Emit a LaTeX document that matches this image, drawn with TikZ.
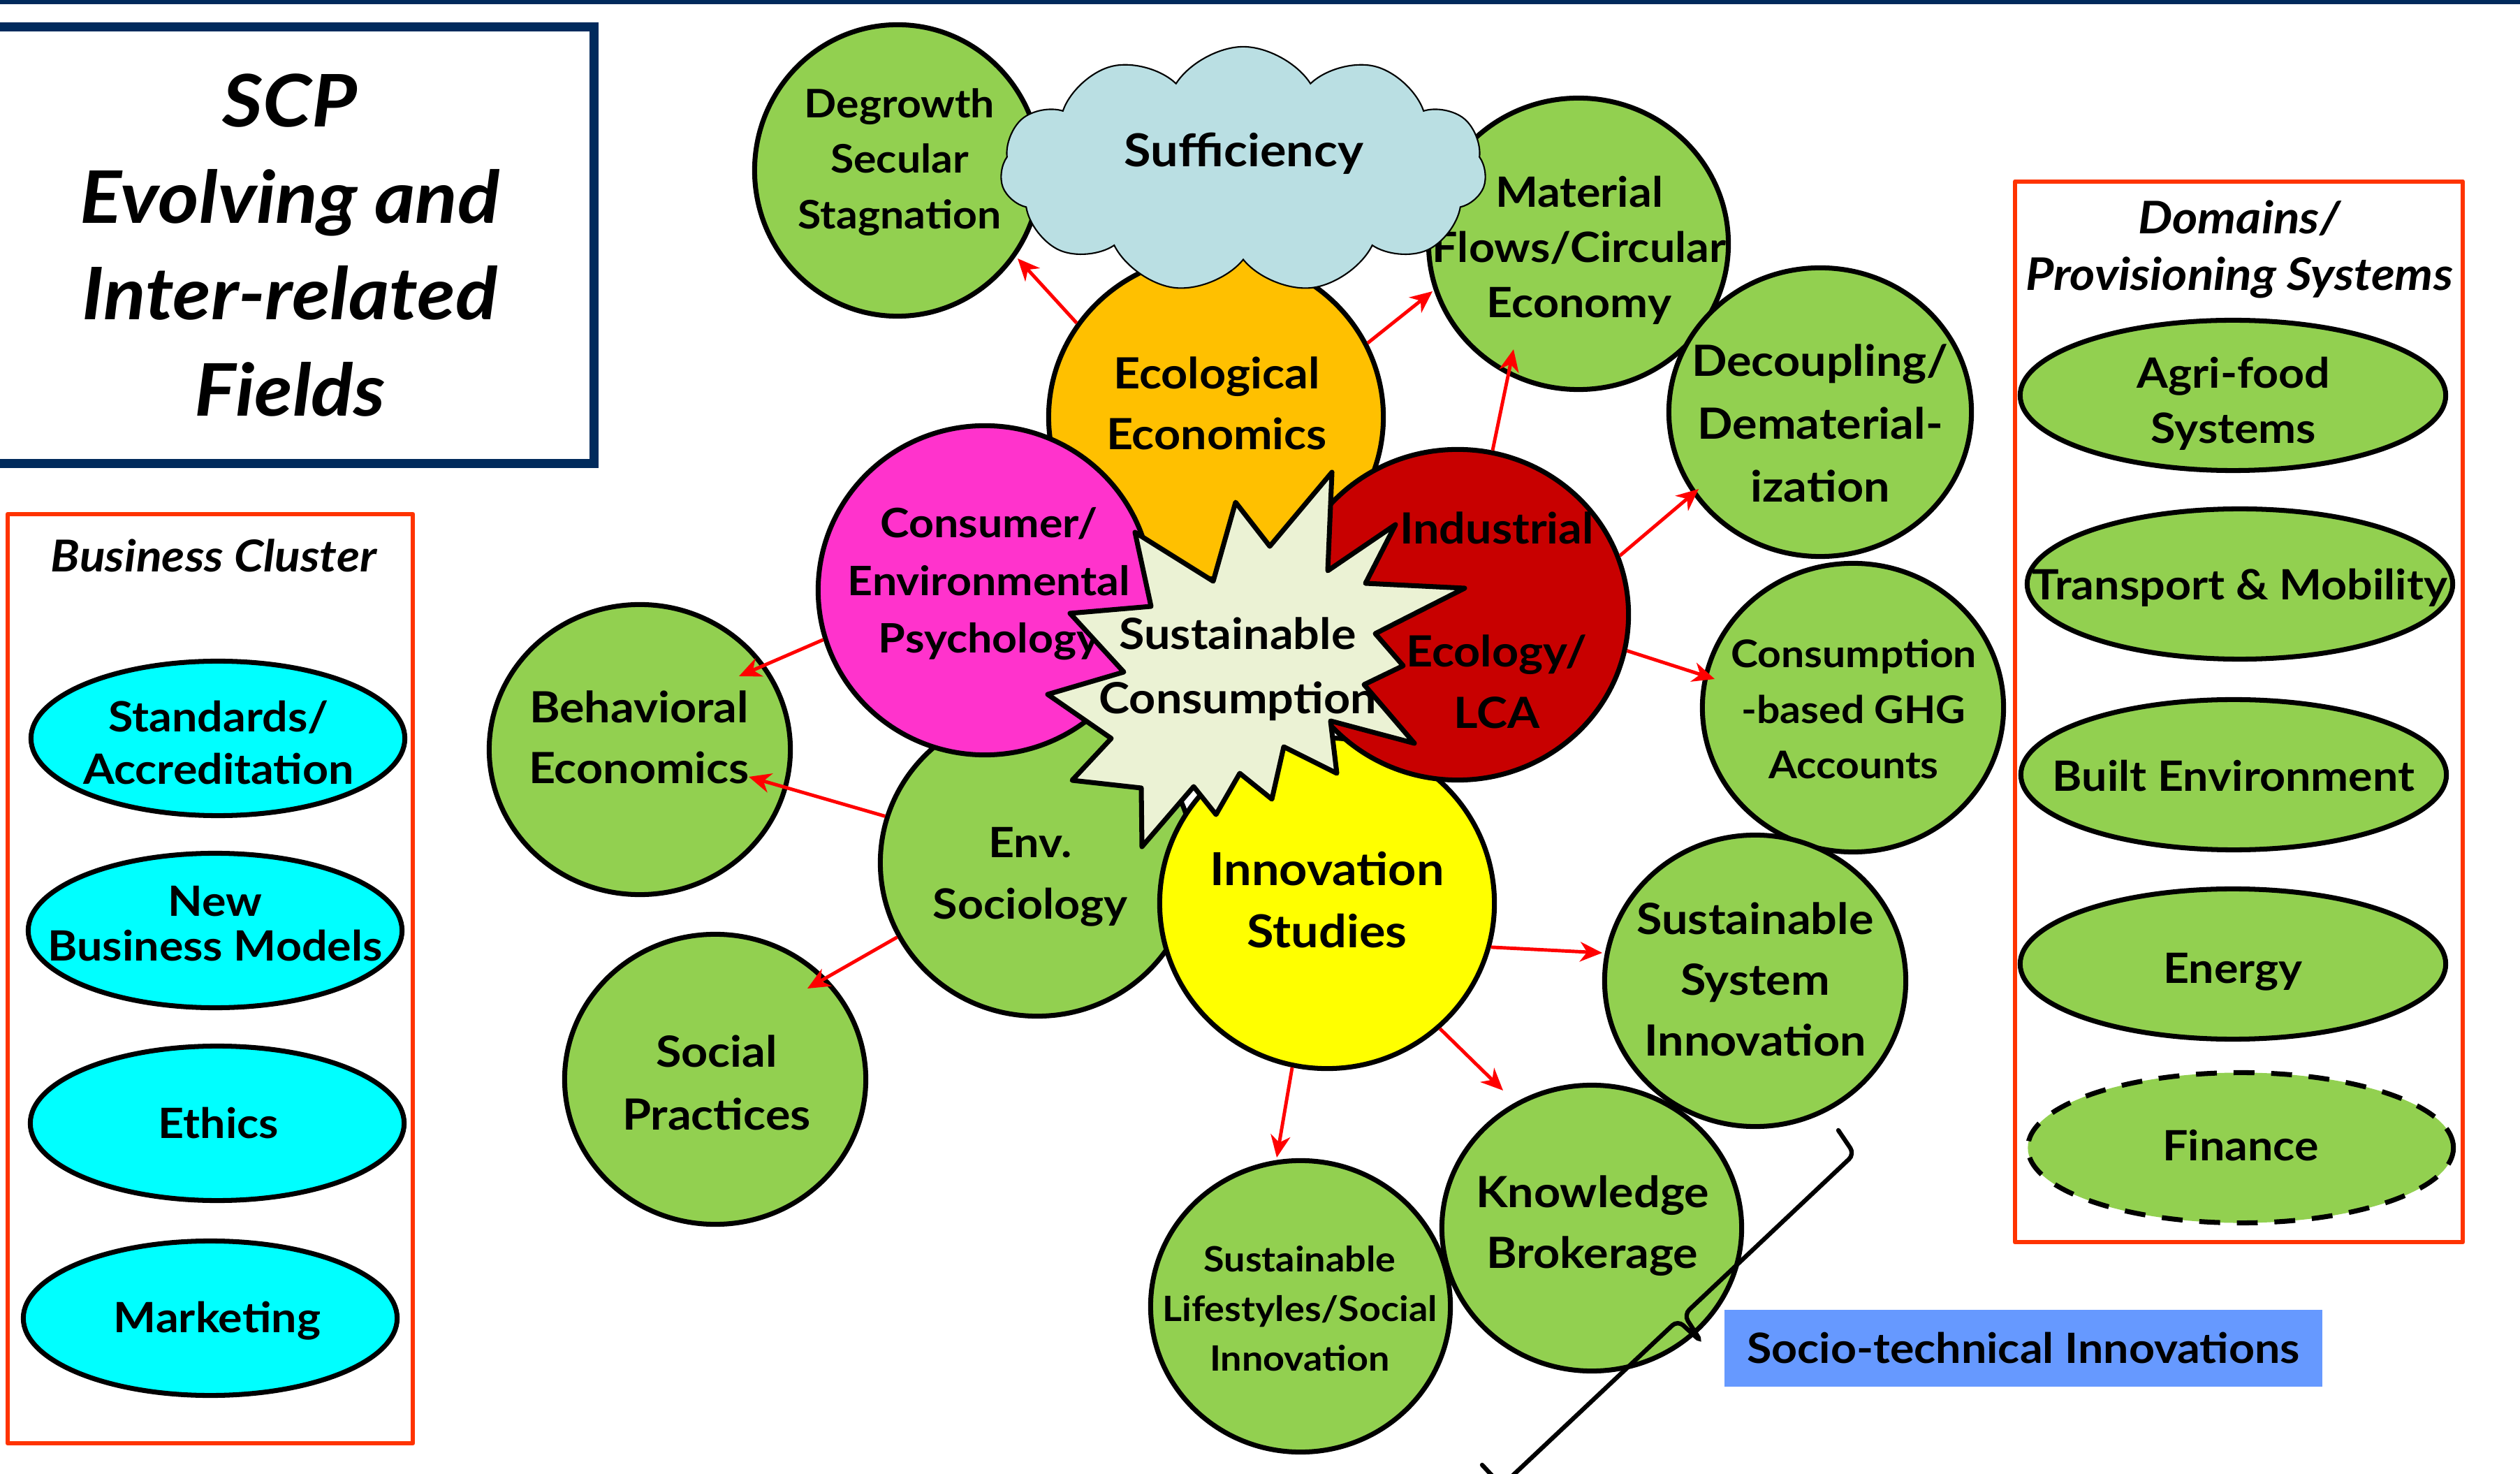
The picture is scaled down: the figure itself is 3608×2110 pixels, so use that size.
\documentclass[tikz,border=0pt]{standalone}
\usepackage{fontspec}
\setmainfont{Lato}[FakeStretch=1.08]
\usetikzlibrary{shapes.geometric,shapes.symbols,arrows.meta}
\definecolor{navy}{HTML}{002A5C}
\definecolor{grn}{HTML}{92D050}
\definecolor{org}{HTML}{FFC000}
\definecolor{mag}{HTML}{FF33CC}
\definecolor{dred}{HTML}{C80000}
\definecolor{yel}{HTML}{FFFF00}
\definecolor{cyn}{HTML}{00FFFF}
\definecolor{starc}{HTML}{EBF2D4}
\definecolor{cloudc}{HTML}{BADFE3}
\definecolor{boxred}{HTML}{FF3300}
\definecolor{arrred}{HTML}{FF0000}
\definecolor{stblue}{HTML}{6699FF}
\newcommand\myfs[2]{\fontsize{#1}{#2}\selectfont\bfseries}
\begin{document}
\begin{tikzpicture}[x=0.01cm,y=-0.01cm,
 bub/.style={ellipse,draw=black,line width=2pt,inner sep=0pt},
 lab/.style={align=center,inner sep=0pt,text=black},
 arr/.style={draw=arrred,line width=1.4pt,-{Stealth[length=9pt,width=8pt,inset=2.8pt]}},
 frame/.style={draw=boxred,line width=1.7pt,inner sep=0pt,line join=round},
 cyanell/.style={bub,fill=cyn,minimum width=5.35cm,minimum height=2.21cm},
 domell/.style={bub,fill=grn,minimum width=6.09cm,minimum height=2.15cm},
]
\useasboundingbox (0,0) rectangle (3608,2110);
\fill[white] (0,0) rectangle (3608,2110);
\fill[navy] (0,0) rectangle (3608,6);

% title box
\node[draw=navy,line width=3.7pt,minimum width=8.7cm,minimum height=6.24cm,inner sep=0pt,align=center,font=\myfs{29.5}{39.3}\itshape] (scp) at (415,351) {SCP\\Evolving and\\Inter-related\\Fields};

% business cluster
\node[frame,minimum width=5.8cm,minimum height=13.3cm] (bus) at (301,1401) {};
\node[lab,font=\myfs{17.9}{22}\itshape] (busT) at (306,795) {Business Cluster};
\node[cyanell] (std) at (312,1057) {};
\node[lab,font=\myfs{17}{21.3}] (stdT) at (313,1063) {Standards/\\Accreditation};
\node[cyanell] (nbm) at (308,1332) {};
\node[lab,font=\myfs{17}{18.3}] (nbmT) at (308,1322) {New\\Business Models};
\node[cyanell] (eth) at (311,1608) {};
\node[lab,font=\myfs{17}{21.3}] (ethT) at (313,1608) {Ethics};
\node[cyanell] (mkt) at (301,1887) {};
\node[lab,font=\myfs{17}{21.3}] (mktT) at (311,1891) {Marketing};

% domains
\node[frame,minimum width=6.41cm,minimum height=15.18cm] (dom) at (3205.5,1019) {};
\node[lab,font=\myfs{18.3}{22.8}\itshape] (domT) at (3206,357) {Domains/\\Provisioning Systems};
\node[domell] (agr) at (3197,566) {};
\node[lab,font=\myfs{17}{22.5}] (agrT) at (3198,578) {Agri-food\\Systems};
\node[domell] (trn) at (3207,836) {};
\node[lab,font=\myfs{17}{22.5}] (trnT) at (3207,841) {Transport \& Mobility};
\node[domell] (blt) at (3198,1109) {};
\node[lab,font=\myfs{17}{22.5}] (bltT) at (3198,1111) {Built Environment};
\node[domell] (enr) at (3197,1380) {};
\node[lab,font=\myfs{17}{22.5}] (enrT) at (3197,1391) {Energy};
\node[domell,dash pattern=on 8.5pt off 6.8pt] (fin) at (3208,1643) {};
\node[lab,font=\myfs{17}{22.5}] (finT) at (3208,1640) {Finance};

% outer green circles
\node[bub,fill=grn,minimum width=4.09cm,minimum height=4.17cm] (deg) at (1285,244) {};
\node[lab,font=\myfs{16}{22.6}] (degT) at (1288,232) {Degrowth\\Secular\\Stagnation};
\node[bub,fill=grn,minimum width=4.29cm,minimum height=4.17cm] (mat) at (2260,349) {};
\node[lab,font=\myfs{17}{22.5}] (matT) at (2261,358) {Material\\Flows/Circular\\Economy};
\node[bub,fill=grn,minimum width=4.33cm,minimum height=4.13cm] (dec) at (2606,590) {};
\node[lab,font=\myfs{17.5}{25.5}] (decT) at (2606,606) {Decoupling/\\Dematerial-\\ization};
\node[bub,fill=grn,minimum width=4.31cm,minimum height=4.13cm] (ghg) at (2653,1013) {};
\node[lab,font=\myfs{15.5}{22.7}] (ghgT) at (2654,1015) {Consumption\\-based GHG\\Accounts};
\node[bub,fill=grn,minimum width=4.31cm,minimum height=4.17cm] (ssi) at (2513,1404) {};
\node[lab,font=\myfs{17.5}{24.8}] (ssiT) at (2513,1402) {Sustainable\\System\\Innovation};
\node[bub,fill=grn,minimum width=4.29cm,minimum height=4.17cm] (lif) at (1862,1870) {};
\node[lab,font=\myfs{14.2}{20.2}] (lifT) at (1861,1873) {Sustainable\\Lifestyles/Social\\Innovation};
\node[bub,fill=grn,minimum width=4.29cm,minimum height=4.09cm] (kno) at (2279,1758) {};
\node[lab,font=\myfs{17.5}{24.8}] (knoT) at (2280,1755) {Knowledge\\Brokerage};
\node[bub,fill=grn,minimum width=4.31cm,minimum height=4.15cm] (beh) at (916,1073) {};
\node[lab,font=\myfs{17.5}{24.8}] (behT) at (915,1055) {Behavioral\\Economics};
\node[bub,fill=grn,minimum width=4.31cm,minimum height=4.15cm] (soc) at (1024,1545) {};
\node[lab,font=\myfs{17.5}{25.5}] (socT) at (1026,1550) {Social\\Practices};

% central cluster
\node[bub,fill=org,minimum width=4.79cm,minimum height=4.63cm] (eco) at (1741,597) {};
\node[lab,font=\myfs{17.5}{24.8}] (ecoT) at (1742,577) {Ecological\\Economics};
\node[cloud,cloud puffs=11,cloud puff arc=115,cloud ignores aspect,draw=black,line width=0.6pt,fill=cloudc,minimum width=6.95cm,minimum height=3.52cm,inner sep=0pt] (suf) at (1780,243) {};
\node[lab,font=\myfs{18.5}{24}] (sufT) at (1781,220) {Sufficiency};
\node[bub,fill=grn,minimum width=4.49cm,minimum height=4.39cm] (env) at (1485,1235) {};
\node[lab,font=\myfs{17}{25}] (envT) at (1475,1255) {Env.\\Sociology};
\node[bub,fill=yel,minimum width=4.79cm,minimum height=4.73cm] (inn) at (1900,1293) {};
\node[lab,font=\myfs{18.5}{25.3}] (innT) at (1900,1288) {Innovation\\Studies};
\node[bub,fill=mag,minimum width=4.77cm,minimum height=4.71cm] (con) at (1410,845) {};
\node[lab,font=\myfs{16.5}{23.5}] (conT) at (1416,836) {Consumer/\\Environmental\\Psychology};
\node[bub,fill=dred,minimum width=4.89cm,minimum height=4.73cm] (ind) at (2087,880) {};
\node[lab,font=\myfs{17.5}{25}] (indT) at (2143,888) {Industrial\\[25pt]Ecology/\\LCA};

% starburst
\draw[fill=starc,line width=2pt,line join=round]
 (1907,676) -- (1901,817) -- (1998,751) -- (1955,835) -- (2097,842) -- (1969,907) -- (2009,953) -- (1953,980) -- (2025,1064) -- (1905,1032) -- (1914,1107) -- (1838,1069) -- (1821,1144) -- (1775,1107) -- (1741,1166) -- (1709,1126) -- (1635,1212) -- (1634,1128) -- (1535,1117) -- (1591,1057) -- (1500,994) -- (1609,962) -- (1532,878) -- (1648,868) -- (1625,762) -- (1737,832) -- (1769,719) -- (1818,782) -- cycle;
\node[lab,font=\myfs{17.5}{26}] (scT) at (1772,958) {Sustainable\\Consumption};

% bracket
\coordinate (k1) at (2632,1618);
\coordinate (k2) at (2655,1652);
\coordinate (k3) at (2411,1882);
\coordinate (k4) at (2436,1921);
\coordinate (k5) at (2402,1890);
\coordinate (k6) at (2150,2127);
\coordinate (k7) at (2122,2097);
\draw[line width=1.8pt,rounded corners=3pt,line cap=round] (k1) -- (k2) -- (k3) -- (k4) -- (k5) -- (k6) -- (k7);

\node[fill=stblue,minimum width=8.56cm,minimum height=1.09cm,inner sep=0pt,font=\myfs{17}{20}] (sti) at (2897,1930) {Socio-technical Innovations};

% arrows
\coordinate (t1) at (1457,370);
\coordinate (t2) at (2051,417);
\coordinate (t3) at (2167,500);
\coordinate (t4) at (2432,700);
\coordinate (t5) at (2455,972);
\coordinate (t6) at (1058,968);
\coordinate (t7) at (1072,1112);
\coordinate (t8) at (1156,1415);
\coordinate (t9) at (2294,1364);
\coordinate (t10) at (2152,1561);
\coordinate (t11) at (1828,1657);
\draw[arr] (eco.146.8) -- (t1);
\draw[arr] (eco.26.9) -- (t2);
\draw[arr] (ind.78.8) -- (t3);
\draw[arr] (ind.20.6) -- (t4);
\draw[arr] (ind.348.5) -- (t5);
\draw[arr] (con.197.4) -- (t6);
\draw[arr] (env.163.9) -- (t7);
\draw[arr] (env.208.9) -- (t8);
\draw[arr] (inn.345.4) -- (t9);
\draw[arr] (inn.312.8) -- (t10);
\draw[arr] (inn.258.7) -- (t11);
\end{tikzpicture}
\end{document}
